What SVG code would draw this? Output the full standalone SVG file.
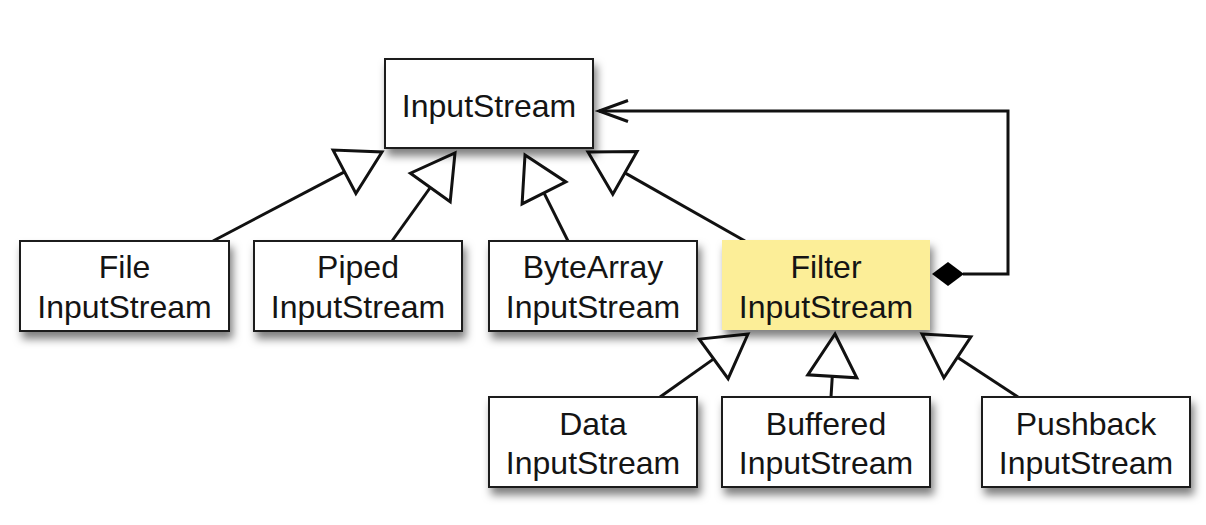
<svg xmlns="http://www.w3.org/2000/svg" width="1206" height="525" viewBox="0 0 1206 525">
  <defs>
    <filter id="shadow" x="-10%" y="-10%" width="125%" height="145%">
      <feDropShadow dx="3" dy="7" stdDeviation="4" flood-color="#000" flood-opacity="0.5"/>
    </filter>
  </defs>
  <style>
    .box { fill: #ffffff; stroke: #1a1a1a; stroke-width: 2; filter: url(#shadow); }
    .hl { fill: #fcee98; stroke: none; filter: url(#shadow); }
    .lbl { font-family: "Liberation Sans", Arial, sans-serif; font-size: 32px; fill: #141414; text-anchor: middle; }
    .edge { fill: none; stroke: #111; stroke-width: 3; stroke-linejoin: miter; }
    .tri { fill: #ffffff; stroke: #111; stroke-width: 3; stroke-linejoin: miter; }
    .dia { fill: #000; stroke: none; }
  </style>
  <rect width="1206" height="525" fill="#ffffff"/>

  <g id="connectors">
    <!-- generalizations to InputStream -->
    <line class="edge" x1="213" y1="241" x2="344.5" y2="171.8"/>
    <polygon class="tri" points="382,152 355.9,193.5 333.1,150.1"/>
    <line class="edge" x1="392" y1="241" x2="430.3" y2="187.5"/>
    <polygon class="tri" points="455,153 450.2,201.8 410.4,173.2"/>
    <line class="edge" x1="568" y1="241" x2="544" y2="192.9"/>
    <polygon class="tri" points="525,155 565.9,181.9 522.1,203.9"/>
    <line class="edge" x1="745" y1="241" x2="624.9" y2="172.9"/>
    <polygon class="tri" points="588,152 637,151.6 612.8,194.2"/>
    <!-- generalizations to FilterInputStream -->
    <line class="edge" x1="660" y1="397" x2="713.7" y2="358.9"/>
    <polygon class="tri" points="748,334 728.1,378.7 699.3,339.1"/>
    <line class="edge" x1="831" y1="397" x2="832.3" y2="376.3"/>
    <polygon class="tri" points="835,334 856.8,377.8 807.8,374.8"/>
    <line class="edge" x1="1018" y1="397" x2="957.4" y2="357.3"/>
    <polygon class="tri" points="922,334 970.9,336.8 943.9,377.8"/>
    <!-- composition: FilterInputStream holds an InputStream -->
    <path class="edge" d="M963,274 H1008 V111 H599"/>
    <path class="edge" d="M628,100.5 L599,111 L628,121.5"/>
    <polygon class="dia" points="932,274 948,262 964,274 948,286"/>
  </g>

  <g id="InputStream">
    <rect class="box" x="385" y="59" width="208" height="89"/>
    <text class="lbl" x="489" y="117">InputStream</text>
  </g>

  <g id="FileInputStream">
    <rect class="box" x="20" y="241" width="209" height="90"/>
    <text class="lbl" x="124.5" y="278">File</text>
    <text class="lbl" x="124.5" y="318">InputStream</text>
  </g>

  <g id="PipedInputStream">
    <rect class="box" x="254" y="241" width="208" height="90"/>
    <text class="lbl" x="358" y="278">Piped</text>
    <text class="lbl" x="358" y="318">InputStream</text>
  </g>

  <g id="ByteArrayInputStream">
    <rect class="box" x="489" y="241" width="208" height="90"/>
    <text class="lbl" x="593" y="278">ByteArray</text>
    <text class="lbl" x="593" y="318">InputStream</text>
  </g>

  <g id="FilterInputStream">
    <rect class="hl" x="722" y="240" width="208" height="90"/>
    <text class="lbl" x="826" y="278">Filter</text>
    <text class="lbl" x="826" y="318">InputStream</text>
  </g>

  <g id="DataInputStream">
    <rect class="box" x="489" y="397" width="208" height="90"/>
    <text class="lbl" x="593" y="435">Data</text>
    <text class="lbl" x="593" y="474">InputStream</text>
  </g>

  <g id="BufferedInputStream">
    <rect class="box" x="722" y="397" width="208" height="90"/>
    <text class="lbl" x="826" y="435">Buffered</text>
    <text class="lbl" x="826" y="474">InputStream</text>
  </g>

  <g id="PushbackInputStream">
    <rect class="box" x="982" y="397" width="208" height="90"/>
    <text class="lbl" x="1086" y="435">Pushback</text>
    <text class="lbl" x="1086" y="474">InputStream</text>
  </g>
</svg>
